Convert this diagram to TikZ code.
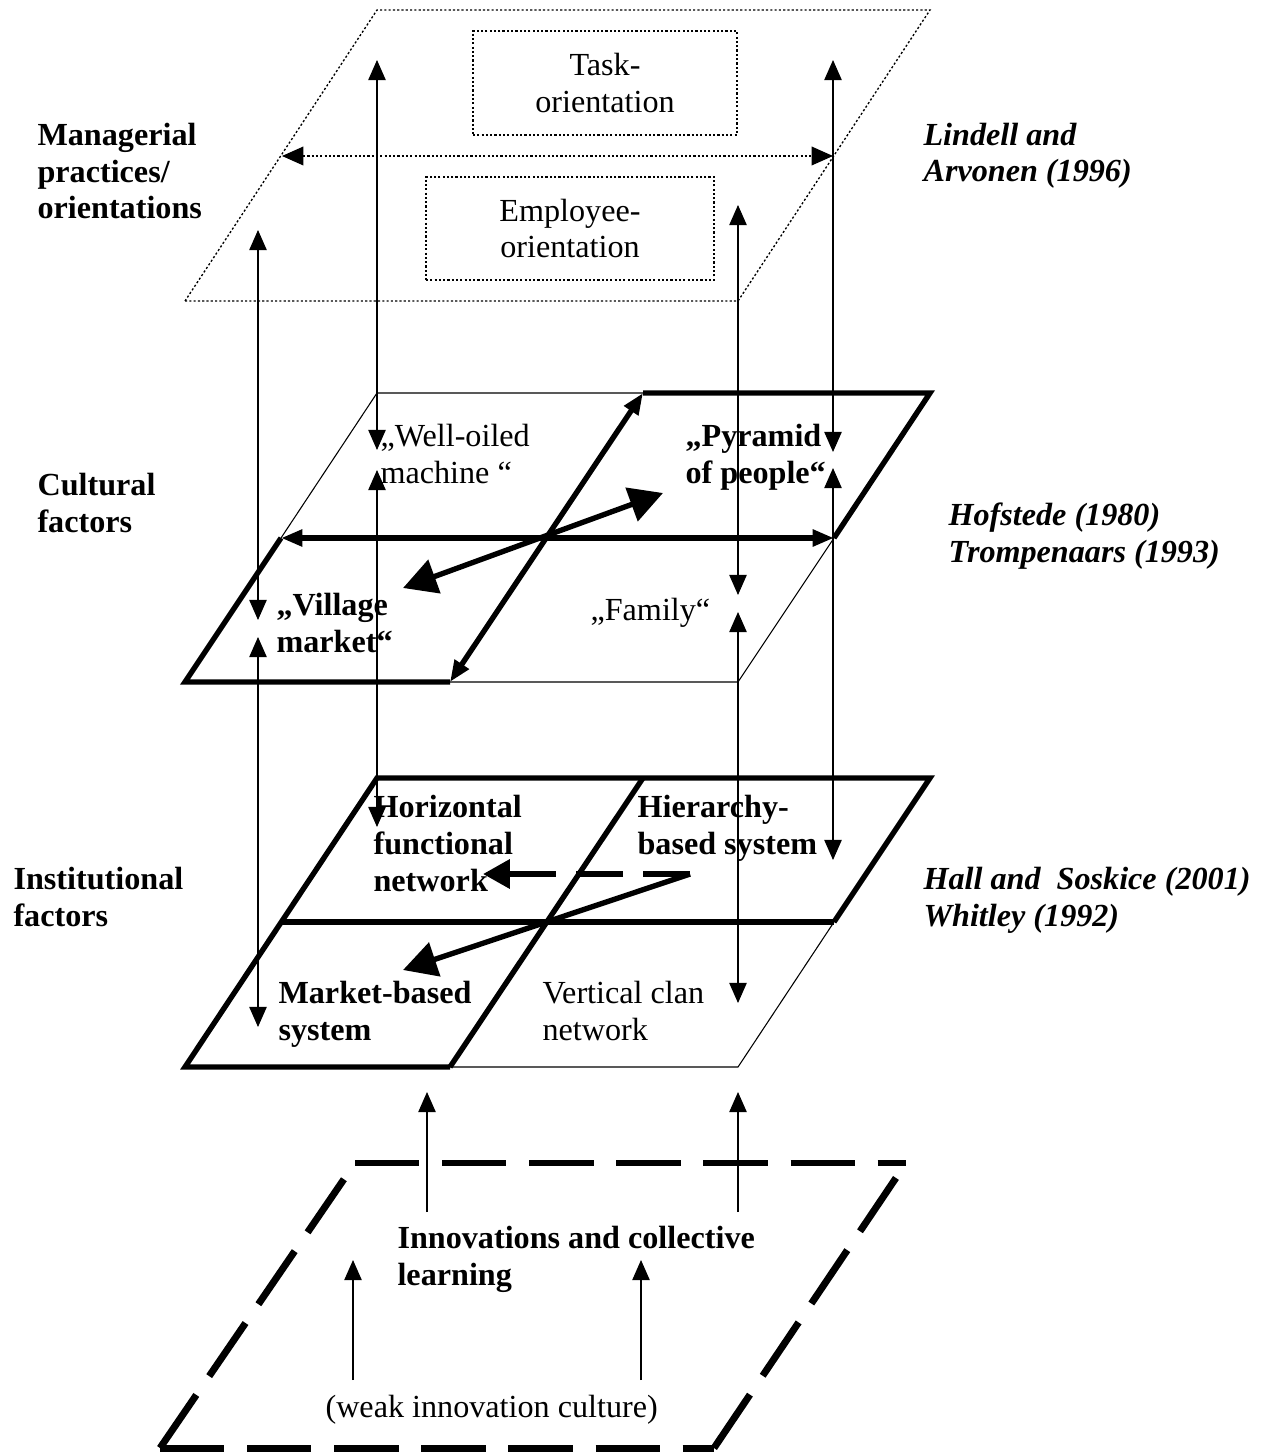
\documentclass[tikz,border=0pt]{standalone}
\usepackage{fontspec}
\setmainfont{Liberation Serif}
\usetikzlibrary{arrows.meta}

\begin{document}
\begin{tikzpicture}[
x=0.3731pt, y=-0.3731pt,
mylevel/.style={
  inner sep=0pt, anchor=base west, align=left,
  font=\fontsize{12}{13.8}\selectfont\bfseries
  },
mysource/.style={
  inner sep=0pt, anchor=base west, align=left,
  font=\fontsize{12}{13.8}\selectfont\bfseries\itshape
  },
mycell/.style={
  inner sep=0pt, anchor=base west, align=left,
  font=\fontsize{12}{13.8}\selectfont
  },
myboldcell/.style={
  mycell, font=\fontsize{12}{13.8}\selectfont\bfseries
  },
mybox/.style={
  draw, line width=0.5pt, dash pattern=on 0.8pt off 0.8pt,
  align=center, inner sep=0pt,
  font=\fontsize{12}{13.8}\selectfont
  },
mythin/.style={line width=0.4pt},
mythick/.style={line width=2pt},
mydots/.style={line width=0.5pt, dash pattern=on 0.8pt off 0.8pt},
mydash/.style={line width=2.6pt, dash pattern=on 24pt off 8.5pt},
mylink/.style={line width=0.4pt,
  {Triangle[length=7.5pt,width=6.5pt]}-{Triangle[length=7.5pt,width=6.5pt]}},
myfeed/.style={line width=0.4pt, -{Triangle[length=7.5pt,width=6.5pt]}},
mybig/.style={line width=2pt,
  {Triangle[length=12.5pt,width=13pt]}-{Triangle[length=12.5pt,width=13pt]}}
]
\useasboundingbox (0,0) rectangle (1267,1456);

% managerial plane
\coordinate (m-bl) at (185,301);
\coordinate (m-br) at (738,301);
\coordinate (m-tr) at (930,10);
\coordinate (m-tl) at (377,10);
\coordinate (m-l) at (282,156);
\coordinate (m-r) at (833,156);
\draw[mydots] (m-bl) -- (m-br) -- (m-tr) -- (m-tl) -- cycle;
\draw[mydots, {Triangle[length=8pt,width=7pt]}-{Triangle[length=8pt,width=7pt]}] (m-l) -- (m-r);
\node[mybox, minimum width=98.5pt, minimum height=38.8pt] (task) at (605,83) {Task-\\orientation};
\node[mybox, minimum width=107.5pt, minimum height=38.4pt] (employee) at (570,228.5) {Employee-\\orientation};

% cultural plane
\coordinate (c-bl) at (185,682);
\coordinate (c-db) at (450,682);
\coordinate (c-br) at (738,682);
\coordinate (c-tr) at (930,393);
\coordinate (c-dt) at (643,393);
\coordinate (c-tl) at (377,393);
\coordinate (c-l) at (281,538);
\coordinate (c-r) at (834,538);
\draw[mythin] (c-dt) -- (c-tl) -- (c-l);
\draw[mythin] (c-db) -- (c-br) -- (c-r);
\draw[mythick] (c-l) -- (c-bl) -- (c-db);
\draw[mythick] (c-dt) -- (c-tr) -- (c-r);
\path[mythick, {Triangle[length=8pt,width=6pt]}-{Triangle[length=8pt,width=6pt]}]
  (c-l) edge (c-r)
  (c-db) edge (c-dt);
\coordinate (c-vil) at (403,588);
\coordinate (c-pyr) at (663,493);
\draw[mybig] (c-vil) -- (c-pyr);

% institutional plane
\coordinate (i-bl) at (185,1067);
\coordinate (i-db) at (450,1067);
\coordinate (i-br) at (738,1067);
\coordinate (i-tr) at (930,778);
\coordinate (i-dt) at (643,778);
\coordinate (i-tl) at (377,778);
\coordinate (i-l) at (281,922);
\coordinate (i-r) at (834,922);
\draw[mythick] (i-db) -- (i-bl) -- (i-tl) -- (i-tr) -- (i-r);
\draw[mythick] (i-l) -- (i-r);
\draw[mythick] (i-dt) -- (i-db);
\draw[mythin] (i-db) -- (i-br) -- (i-r);
\coordinate (i-src) at (690,874);
\coordinate (i-hor) at (483,874);
\coordinate (i-mkt) at (403,970);
\draw[line width=2.2pt, dash pattern=on 17.5pt off 7.5pt,
  -{Triangle[length=10pt,width=10.5pt]}] (i-src) -- (i-hor);
\draw[mythick, -{Triangle[length=12.5pt,width=13pt]}] (i-src) -- (i-mkt);

% innovation plane
\coordinate (b-tl) at (355,1163);
\coordinate (b-tr) at (906,1163);
\coordinate (b-br) at (714,1448);
\coordinate (b-bl) at (160,1448);
\path[mydash]
  (b-tl) edge (b-tr)
  (b-br) edge (b-tr)
  (b-bl) edge (b-br)
  (b-bl) edge (b-tl);

% links between the planes
\foreach \Name/\Col/\Ya/\Yb/\Yc/\Yd in
  {p/258/230/620/637/1027, q/377/60/450/470/827,
   r/738/205/595/612/1003, s/833/60/452/468/860}
{
  \coordinate (\Name1) at (\Col,\Ya);
  \coordinate (\Name2) at (\Col,\Yb);
  \coordinate (\Name3) at (\Col,\Yc);
  \coordinate (\Name4) at (\Col,\Yd);
  \path[mylink] (\Name1) edge (\Name2) (\Name3) edge (\Name4);
}
\foreach \Name/\Col/\Ya/\Yb in
  {f1/427/1212/1092, f2/738/1212/1092, g1/353/1380/1260, g2/641/1380/1260}
{
  \coordinate (\Name a) at (\Col,\Ya);
  \coordinate (\Name b) at (\Col,\Yb);
  \draw[myfeed] (\Name a) -- (\Name b);
}

% texts (base = last line)
\node[mylevel] (mgmt) at (37,219) {Managerial\\practices/\\orientations};
\node[mylevel] (cult) at (37,532) {Cultural\\factors};
\node[mylevel] (inst) at (13,926) {Institutional\\factors};
\node[mysource] (lindell) at (923,182) {Lindell and\\Arvonen (1996)};
\node[mysource] (hofstede) at (948,562) {Hofstede (1980)\\Trompenaars (1993)};
\node[mysource] (hall) at (923,926) {Hall and\ \ Soskice (2001)\\Whitley (1992)};
\node[mycell] (oiled) at (380,483) {„Well-oiled\\machine “};
\node[myboldcell] (pyramid) at (685,483) {„Pyramid\\of people“};
\node[myboldcell] (village) at (276,652) {„Village\\market“};
\node[mycell] (family) at (590,620) {„Family“};
\node[myboldcell] (horiz) at (373,891) {Horizontal\\functional\\network};
\node[myboldcell] (hier) at (637,854) {Hierarchy-\\based system};
\node[myboldcell] (mkt) at (278,1040) {Market-based\\system};
\node[mycell] (vert) at (542,1040) {Vertical clan\\network};
\node[myboldcell] (innov) at (397,1285) {Innovations and collective\\learning};
\node[mycell] (weak) at (325,1417) {(weak innovation culture)};
\end{tikzpicture}
\end{document}
